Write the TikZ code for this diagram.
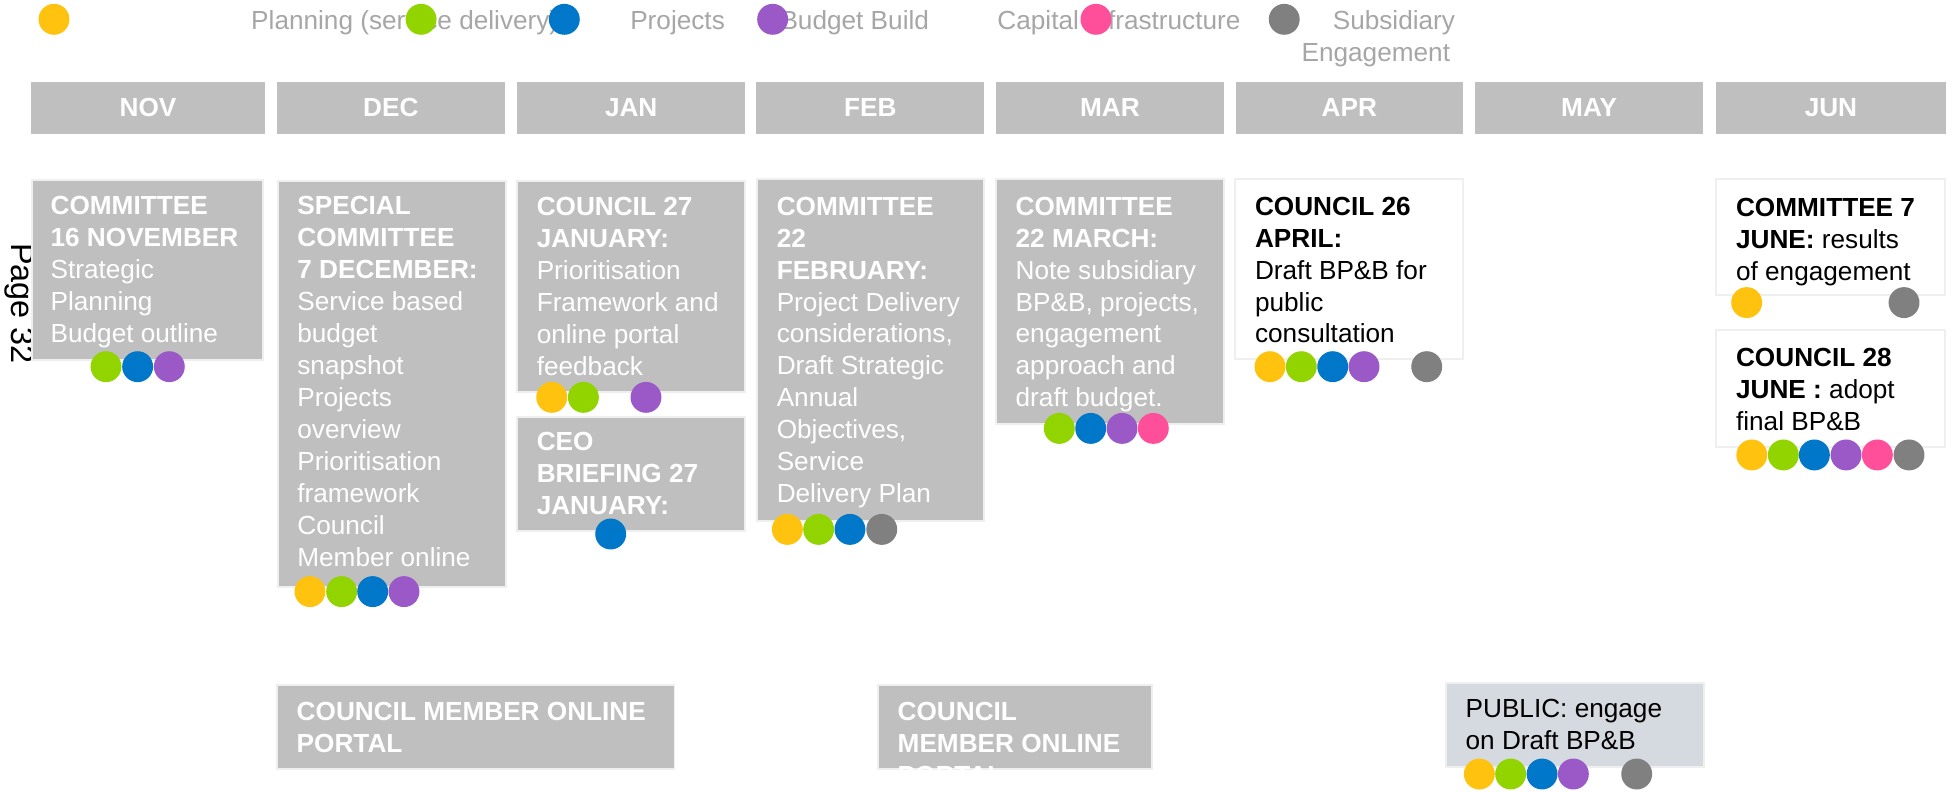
\documentclass[tikz,border=0pt]{standalone}
\usepackage{fontspec}
\setmainfont{Liberation Sans}
\definecolor{cYel}{HTML}{FFC20E}
\definecolor{cGrn}{HTML}{92D400}
\definecolor{cBlu}{HTML}{0077C8}
\definecolor{cPur}{HTML}{9B59C8}
\definecolor{cPnk}{HTML}{FF4F9A}
\definecolor{cGry}{HTML}{808080}
\definecolor{boxgrey}{HTML}{BFBFBF}
\definecolor{boxedge}{HTML}{EFEFEF}
\definecolor{legtext}{HTML}{A6A6A6}
\definecolor{pubfill}{HTML}{D5DAE0}
\newcommand\bodyfont{\fontsize{10.5}{12.8}\selectfont}
\newcommand\pagefont{\fontsize{13}{15}\selectfont}
\newcommand\mdot[3]{\fill[#1] (#2,#3) circle[radius=6.2pt];}
\begin{document}
\begin{tikzpicture}[x=0.5pt,y=-0.5pt,
  every node/.style={inner sep=0pt, outer sep=0pt},
  gbox/.style={fill=boxgrey, draw=boxedge, line width=0.75pt},
  wbox/.style={fill=white, draw=boxedge, line width=0.75pt},
  pbox/.style={fill=pubfill, draw=boxedge, line width=0.75pt},
  mtxt/.style={text=white, font=\bodyfont\bfseries},
  wtxt/.style={anchor=north west, align=left, text=white, font=\bodyfont},
  btxt/.style={anchor=north west, align=left, text=black, font=\bodyfont},
  legtxt/.style={anchor=base west, text=legtext, font=\bodyfont},
]
\useasboundingbox (0,0) rectangle (1568,635);

% ---------- legend ----------
\node[legtxt] (lPlan) at (201.5,24) {Planning (service delivery)};
\node[legtxt] (lProj) at (505.5,24) {Projects};
\node[legtxt] (lBudg) at (626,24) {Budget Build};
\node[legtxt] (lCap) at (800,24) {Capital Infrastructure};
\node[legtxt, anchor=base east] (lSub) at (1167,24) {Subsidiary};
\node[legtxt, anchor=base east] (lEng) at (1163,49.5) {Engagement};
\mdot{cYel}{43.3}{15.5}
\mdot{cGrn}{337.7}{15.5}
\mdot{cBlu}{452.6}{15.5}
\mdot{cPur}{619.7}{15.5}
\mdot{cPnk}{879}{15.5}
\mdot{cGry}{1030}{15.5}

% ---------- month bars ----------
\fill[boxgrey] (25,65.5) rectangle (212.5,107.5);
\fill[boxgrey] (222,65.5) rectangle (405,107.5);
\fill[boxgrey] (415,65.5) rectangle (597.5,107.5);
\fill[boxgrey] (606.5,65.5) rectangle (789.5,107.5);
\fill[boxgrey] (799,65.5) rectangle (981.5,107.5);
\fill[boxgrey] (991,65.5) rectangle (1173.5,107.5);
\fill[boxgrey] (1183,65.5) rectangle (1366,107.5);
\fill[boxgrey] (1376,65.5) rectangle (1561,107.5);
\node[mtxt] (mNov) at (118.75,86.5) {NOV};
\node[mtxt] (mDec) at (313.5,86.5) {DEC};
\node[mtxt] (mJan) at (506.25,86.5) {JAN};
\node[mtxt] (mFeb) at (698,86.5) {FEB};
\node[mtxt] (mMar) at (890.25,86.5) {MAR};
\node[mtxt] (mApr) at (1082.25,86.5) {APR};
\node[mtxt] (mMay) at (1274.5,86.5) {MAY};
\node[mtxt] (mJun) at (1468.5,86.5) {JUN};

% ---------- page number ----------
\node[rotate=-90, anchor=base, font=\pagefont] (pg) at (9.4,243.5) {Page 32};

% ---------- boxes ----------
\draw[gbox] (25.4,144.4) rectangle (211,288.7);
\node[wtxt] (tNov) at (40.6,157.7) {\textbf{COMMITTEE}\\\textbf{16 NOVEMBER}\\Strategic\\Planning\\Budget outline};

\draw[gbox] (223.2,144.9) rectangle (405.8,470.5);
\node[wtxt] (tDec) at (238.5,157.7) {\textbf{SPECIAL}\\\textbf{COMMITTEE}\\\textbf{7 DECEMBER:}\\Service based\\budget\\snapshot\\Projects\\overview\\Prioritisation\\framework\\Council\\Member online};

\draw[gbox] (414.9,144.9) rectangle (597.5,314.7);
\node[wtxt] (tJan) at (430.5,158.3) {\textbf{COUNCIL 27}\\\textbf{JANUARY:}\\Prioritisation\\Framework and\\online portal\\feedback};

\draw[gbox] (414.9,334.2) rectangle (597.5,425.9);
\node[wtxt] (tCeo) at (430.5,347) {\textbf{CEO}\\\textbf{BRIEFING 27}\\\textbf{JANUARY:}};

\draw[gbox] (606.9,143.8) rectangle (789.5,417.6);
\node[wtxt] (tFeb) at (623,158) {\textbf{COMMITTEE}\\\textbf{22}\\\textbf{FEBRUARY:}\\Project Delivery\\considerations,\\Draft Strategic\\Annual\\Objectives,\\Service\\Delivery Plan};

\draw[gbox] (798.8,143.8) rectangle (982,340.3);
\node[wtxt] (tMar) at (814.6,158) {\textbf{COMMITTEE}\\\textbf{22 MARCH:}\\Note subsidiary\\BP\&B, projects,\\engagement\\approach and\\draft budget.};

\draw[wbox] (990.5,143.8) rectangle (1173.5,288.2);
\node[btxt] (tApr) at (1006.6,158) {\textbf{COUNCIL 26}\\\textbf{APRIL:}\\Draft BP\&B for\\public\\consultation};

\draw[wbox] (1376.3,143.6) rectangle (1560,236.6);
\node[btxt] (tJun1) at (1392.4,159) {\textbf{COMMITTEE 7}\\\textbf{JUNE:} results\\of engagement};

\draw[wbox] (1376.3,264.7) rectangle (1560,358.3);
\node[btxt] (tJun2) at (1392.4,279.4) {\textbf{COUNCIL 28}\\\textbf{JUNE :} adopt\\final BP\&B};

\draw[gbox] (222.3,549.4) rectangle (541,616.8);
\node[wtxt] (tPort1) at (238,563.6) {\textbf{COUNCIL MEMBER ONLINE}\\\textbf{PORTAL}};

\draw[gbox] (704.5,549.4) rectangle (923.6,616.8);
\node[wtxt] (tPort2) at (720,563.6) {\textbf{COUNCIL}\\\textbf{MEMBER ONLINE}\\\textbf{PORTAL}};

\draw[pbox] (1159.8,547.5) rectangle (1367,614.9);
\node[btxt] (tPub) at (1175.5,560.6) {PUBLIC: engage\\on Draft BP\&B};

% ---------- dots ----------
\mdot{cGrn}{85}{294.1}\mdot{cBlu}{110.4}{294.1}\mdot{cPur}{135.8}{294.1}
\mdot{cYel}{248.6}{474.5}\mdot{cGrn}{274}{474.5}\mdot{cBlu}{298.9}{474.5}\mdot{cPur}{324}{474.5}
\mdot{cYel}{442.5}{318.7}\mdot{cGrn}{467.9}{318.7}\mdot{cPur}{518.1}{318.7}
\mdot{cBlu}{489.8}{428.3}
\mdot{cYel}{631.5}{424.6}\mdot{cGrn}{656.6}{424.6}\mdot{cBlu}{681.7}{424.6}\mdot{cGry}{707.2}{424.6}
\mdot{cGrn}{849.6}{343.6}\mdot{cBlu}{874.8}{343.6}\mdot{cPur}{899.9}{343.6}\mdot{cPnk}{925}{343.6}
\mdot{cYel}{1018.6}{294.1}\mdot{cGrn}{1043.7}{294.1}\mdot{cBlu}{1068.9}{294.1}\mdot{cPur}{1094}{294.1}\mdot{cGry}{1144.3}{294.1}
\mdot{cYel}{1400.9}{242.7}\mdot{cGry}{1527.1}{242.7}
\mdot{cYel}{1405}{364.9}\mdot{cGrn}{1430.3}{364.9}\mdot{cBlu}{1455.2}{364.9}\mdot{cPur}{1480.6}{364.9}\mdot{cPnk}{1505.7}{364.9}\mdot{cGry}{1531.1}{364.9}
\mdot{cYel}{1186.5}{620.8}\mdot{cGrn}{1211.6}{620.8}\mdot{cBlu}{1236.8}{620.8}\mdot{cPur}{1261.9}{620.8}\mdot{cGry}{1312.7}{620.8}
\end{tikzpicture}
\end{document}
